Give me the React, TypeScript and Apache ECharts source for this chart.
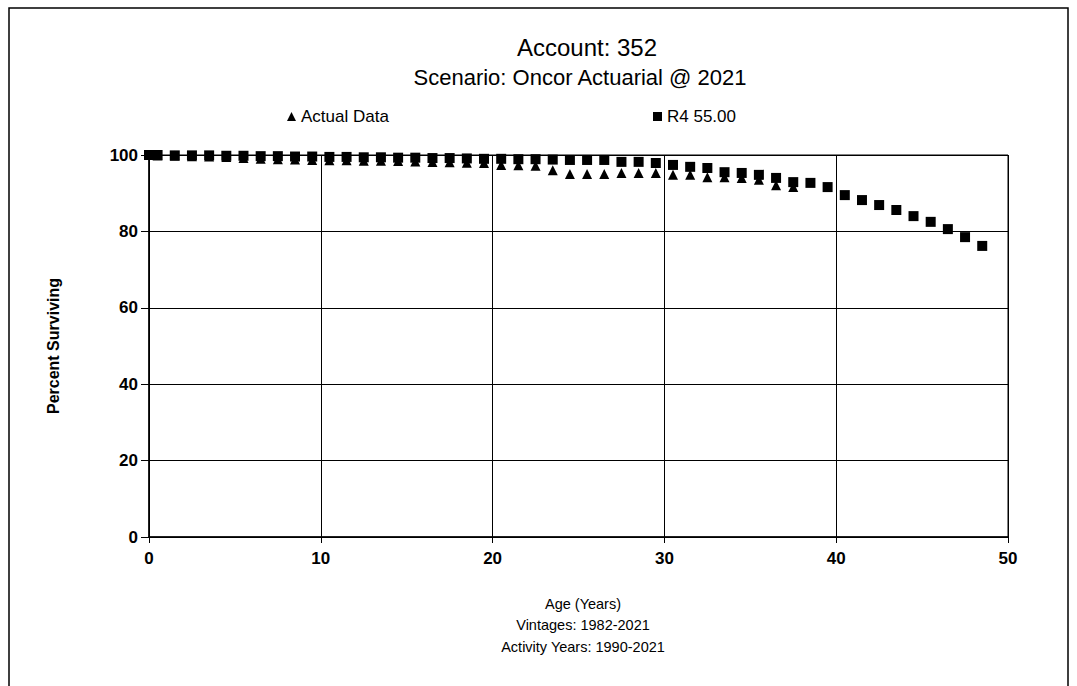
import React, { useEffect, useRef } from "react";
import * as echarts from "echarts";

const titleText = "Account: 352";
const subtitleText = "Scenario: Oncor Actuarial @ 2021";
const xAxisLines = ["Age (Years)", "Vintages: 1982-2021", "Activity Years: 1990-2021"];
const yAxisName = "Percent Surviving";
const seriesNames = ["Actual Data", "R4 55.00"];

const actualAges = [0, 0.5, 1.5, 2.5, 3.5, 4.5, 5.5, 6.5, 7.5, 8.5, 9.5, 10.5, 11.5, 12.5, 13.5, 14.5, 15.5, 16.5, 17.5, 18.5, 19.5, 20.5, 21.5, 22.5, 23.5, 24.5, 25.5, 26.5, 27.5, 28.5, 29.5, 30.5, 31.5, 32.5, 33.5, 34.5, 35.5, 36.5, 37.5];
const actualValues = [100, 99.9, 99.8, 99.7, 99.6, 99.5, 99.2, 99.0, 98.9, 98.8, 98.7, 98.6, 98.6, 98.5, 98.5, 98.4, 98.3, 98.2, 98.1, 98.0, 97.9, 97.4, 97.3, 97.2, 96.0, 95.0, 95.0, 95.0, 95.3, 95.3, 95.3, 94.8, 94.8, 94.2, 94.2, 94.0, 93.5, 92.1, 91.6];

const r4Ages = [0, 0.5, 1.5, 2.5, 3.5, 4.5, 5.5, 6.5, 7.5, 8.5, 9.5, 10.5, 11.5, 12.5, 13.5, 14.5, 15.5, 16.5, 17.5, 18.5, 19.5, 20.5, 21.5, 22.5, 23.5, 24.5, 25.5, 26.5, 27.5, 28.5, 29.5, 30.5, 31.5, 32.5, 33.5, 34.5, 35.5, 36.5, 37.5, 38.5, 39.5, 40.5, 41.5, 42.5, 43.5, 44.5, 45.5, 46.5, 47.5, 48.5];
const r4Values = [100, 100, 99.9, 99.9, 99.9, 99.8, 99.8, 99.7, 99.7, 99.6, 99.6, 99.5, 99.5, 99.4, 99.4, 99.3, 99.3, 99.2, 99.2, 99.1, 99.0, 99.0, 98.9, 98.9, 98.8, 98.7, 98.7, 98.7, 98.2, 98.2, 97.9, 97.4, 96.9, 96.6, 95.5, 95.3, 94.8, 94.0, 92.9, 92.7, 91.6, 89.5, 88.2, 86.9, 85.6, 84.0, 82.5, 80.6, 78.5, 76.2];

const xTicks = { min: 0, max: 50, interval: 10 };
const yTicks = { min: 0, max: 100, interval: 20 };

const FONT = "'Liberation Sans', Arial, sans-serif";

export default function App() {
  const ref = useRef<HTMLDivElement>(null);
  useEffect(() => {
    if (!ref.current) return;
    const chart = echarts.init(ref.current, undefined, { renderer: "svg" });
    const actual = actualAges.map((a, i) => [a, actualValues[i]]);
    const r4 = r4Ages.map((a, i) => [a, r4Values[i]]);
    chart.setOption({
      animation: false,
      backgroundColor: "#ffffff",
      textStyle: { fontFamily: FONT, color: "#000" },
      title: [
        {
          text: titleText,
          left: 582,
          top: 30,
          textAlign: "center",
          textStyle: { fontFamily: FONT, fontSize: 24, fontWeight: "normal", color: "#000" },
        },
        {
          text: subtitleText,
          left: 575,
          top: 61,
          textAlign: "center",
          textStyle: { fontFamily: FONT, fontSize: 22, fontWeight: "normal", color: "#000" },
        },
        {
          text: xAxisLines.join("\n"),
          left: 578,
          top: 588,
          textAlign: "center",
          textStyle: { fontFamily: FONT, fontSize: 14.5, fontWeight: "normal", color: "#000", lineHeight: 21.5 },
        },
      ],
      legend: [
        {
          data: [{ name: seriesNames[0], icon: "triangle" }],
          left: 282,
          top: 103,
          itemWidth: 9,
          itemHeight: 9,
          textStyle: { fontFamily: FONT, fontSize: 17, color: "#000" },
        },
        {
          data: [{ name: seriesNames[1], icon: "rect" }],
          left: 648,
          top: 103,
          itemWidth: 9,
          itemHeight: 9,
          textStyle: { fontFamily: FONT, fontSize: 17, color: "#000" },
        },
      ],
      graphic: [
        {
          type: "rect",
          shape: { x: 9, y: 8, width: 1059, height: 700 },
          style: { fill: "none", stroke: "#000", lineWidth: 1.5 },
          silent: true,
        },
      ],
      grid: {
        left: 149,
        top: 155,
        width: 859,
        height: 382,
        show: true,
        borderColor: "#000",
        borderWidth: 1,
        containLabel: false,
      },
      xAxis: {
        type: "value",
        min: xTicks.min,
        max: xTicks.max,
        interval: xTicks.interval,
        axisLine: { show: true, lineStyle: { color: "#000", width: 1.5 } },
        axisTick: { show: true, length: 6, lineStyle: { color: "#000" } },
        axisLabel: { color: "#000", fontSize: 17, fontWeight: "bold", margin: 13, fontFamily: FONT },
        splitLine: { show: true, lineStyle: { color: "#000", width: 1 } },
      },
      yAxis: {
        type: "value",
        min: yTicks.min,
        max: yTicks.max,
        interval: yTicks.interval,
        name: yAxisName,
        nameLocation: "middle",
        nameGap: 88,
        nameTextStyle: { color: "#000", fontSize: 16, fontWeight: "bold", fontFamily: FONT },
        axisLine: { show: true, lineStyle: { color: "#000", width: 1.5 } },
        axisTick: { show: true, length: 8, lineStyle: { color: "#000" } },
        axisLabel: { color: "#000", fontSize: 17, fontWeight: "bold", margin: 11, fontFamily: FONT },
        splitLine: { show: true, lineStyle: { color: "#000", width: 1 } },
      },
      series: [
        {
          name: seriesNames[0],
          type: "scatter",
          symbol: "triangle",
          symbolSize: 10,
          itemStyle: { color: "#000", opacity: 1 },
          data: actual,
          z: 2,
        },
        {
          name: seriesNames[1],
          type: "scatter",
          symbol: "rect",
          symbolSize: 10,
          itemStyle: { color: "#000", opacity: 1 },
          data: r4,
          z: 3,
        },
      ],
    });
    return () => chart.dispose();
  }, []);
  return (
    <div
      ref={ref}
      style={{ position: "absolute", left: 0, top: 0, width: 1077, height: 686 }}
    />
  );
}
